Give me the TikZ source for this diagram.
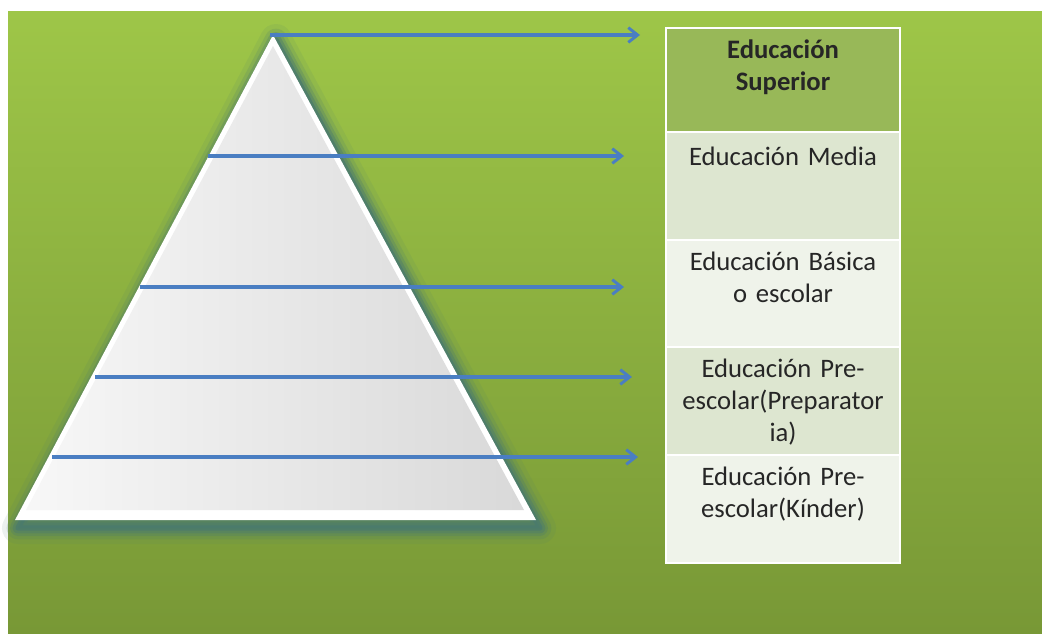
\documentclass[tikz,border=0pt]{standalone}
\usepackage{fontspec}
\setmainfont{Carlito}[WordSpace=0.7]
\usetikzlibrary{arrows.meta}
\definecolor{bgtop}{RGB}{158,198,72}
\definecolor{bgbot}{RGB}{120,152,54}
\definecolor{teal}{RGB}{74,122,110}
\definecolor{arrblue}{RGB}{74,126,194}
\definecolor{supcol}{RGB}{152,184,88}
\definecolor{medcol}{RGB}{221,230,208}
\definecolor{lightcol}{RGB}{239,243,234}
\tikzset{
  link/.style={draw=arrblue, line width=2.4pt, -{Straight Barb[length=7pt,width=11pt,line width=2.2pt]}},
  cell/.style={draw=white, line width=1.6pt},
  celltext/.style={anchor=north, text width=178pt, align=center, font=\fontsize{20}{24}\selectfont, text=black!85, inner sep=0pt},
}
\begin{document}
\begin{tikzpicture}[x=0.75pt,y=-0.75pt]
\useasboundingbox (0,0) rectangle (1042,633);
\fill[white] (0,0) rectangle (1042,633);
\shade[top color=bgtop, bottom color=bgbot] (8,11) rectangle (1042,633);
% triangle shadow / glow
\foreach \w/\o in {24/0.1,17/0.18,12/0.28,8/0.42,4/0.7}{
  \draw[teal, line width=\w pt, opacity=\o, line join=round] (276,40) -- (18,528) -- (540,528) -- cycle;
}
\fill[teal, opacity=0.5] (276,40) -- (18,528) -- (540,528) -- cycle;
% triangle body
\fill[white] (273,35) -- (15,520) -- (536,520) -- cycle;
\shade[left color=gray!6, right color=gray!30, middle color=gray!18] (273,46) -- (26,510) -- (524,510) -- cycle;
% table
\path[cell, fill=supcol] (666,28) rectangle (900,132);
\path[cell, fill=medcol] (666,132) rectangle (900,240);
\path[cell, fill=lightcol] (666,240) rectangle (900,347);
\path[cell, fill=medcol] (666,347) rectangle (900,455);
\path[cell, fill=lightcol] (666,455) rectangle (900,563);
\node[celltext, font=\fontsize{20}{24}\selectfont\bfseries] (sup) at (783,40) {Educación\\Superior};
\node[celltext] (med) at (783,147) {Educación Media};
\node[celltext] (bas) at (783,252) {Educación Básica\\o escolar};
\node[celltext] (pre) at (783,359) {Educación Pre-\\escolar(Preparator\\ia)};
\node[celltext] (kin) at (783,467) {Educación Pre-\\escolar(Kínder)};
% connectors
\coordinate (s1) at (270,35);  \coordinate (e1) at (640,35);
\coordinate (s2) at (208,156); \coordinate (e2) at (624,156);
\coordinate (s3) at (140,287); \coordinate (e3) at (624,287);
\coordinate (s4) at (95,377);  \coordinate (e4) at (632,377);
\coordinate (s5) at (52,457);  \coordinate (e5) at (638,457);
\foreach \i in {1,...,5}{\draw[link] (s\i) -- (e\i);}
\end{tikzpicture}
\end{document}
